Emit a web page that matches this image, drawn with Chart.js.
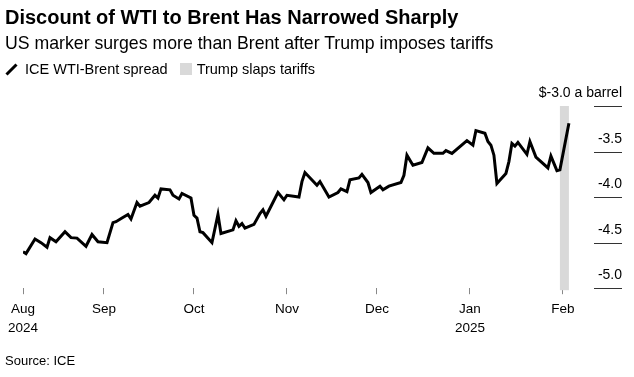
<!DOCTYPE html>
<html>
<head>
<meta charset="utf-8">
<script src="https://cdn.jsdelivr.net/npm/chart.js@4.4.1/dist/chart.umd.min.js"></script>
<style>
  html, body { margin: 0; padding: 0; background: #fff; }
  body { width: 634px; height: 377px; position: relative; overflow: hidden;
         font-family: "Liberation Sans", Arial, sans-serif; color: #000; }
  #wrap { position: absolute; left: 0; top: 0; width: 634px; height: 377px; }
  #spreadChart { display: block; }
  .txt { position: absolute; left: 5px; white-space: nowrap; }
  #title { top: 5px; font-size: 20px; line-height: 24px; font-weight: bold; }
  #subtitle { top: 33px; font-size: 17.7px; line-height: 21px; }
  #legend { top: 60px; font-size: 14.5px; line-height: 18px; display: flex; align-items: center; }
  #legend .item { display: flex; align-items: center; margin-right: 12px; }
  #legend .swatch { width: 12px; height: 12px; background: #d9d9d9; margin-right: 5px; }
  #legend svg { margin-right: 7px; }
  #source { top: 353px; font-size: 13px; line-height: 15px; }
</style>
</head>
<body>
<div id="wrap"><canvas id="spreadChart" width="634" height="377"></canvas></div>
<div class="txt" id="title">Discount of WTI to Brent Has Narrowed Sharply</div>
<div class="txt" id="subtitle">US marker surges more than Brent after Trump imposes tariffs</div>
<div class="txt" id="legend">
  <span class="item">
    <svg width="13" height="13" viewBox="0 0 13 13"><line x1="1.5" y1="11.5" x2="11.5" y2="1.5" stroke="#000" stroke-width="3"/></svg>
    ICE WTI-Brent spread
  </span>
  <span class="item"><span class="swatch"></span>Trump slaps tariffs</span>
</div>
<div class="txt" id="source">Source: ICE</div>

<script>
const spreadDates = [
  "2024-08-05", "2024-08-06", "2024-08-09", "2024-08-11", "2024-08-13", "2024-08-14",
  "2024-08-16", "2024-08-19", "2024-08-21", "2024-08-23", "2024-08-26", "2024-08-28",
  "2024-08-30", "2024-09-02", "2024-09-04", "2024-09-05", "2024-09-07", "2024-09-09",
  "2024-09-10", "2024-09-12", "2024-09-13", "2024-09-16", "2024-09-18", "2024-09-19",
  "2024-09-20", "2024-09-23", "2024-09-24", "2024-09-26", "2024-09-27", "2024-09-30",
  "2024-10-01", "2024-10-02", "2024-10-03", "2024-10-04", "2024-10-07", "2024-10-09",
  "2024-10-10", "2024-10-14", "2024-10-15", "2024-10-16", "2024-10-17", "2024-10-18",
  "2024-10-21", "2024-10-23", "2024-10-24", "2024-10-25", "2024-10-29", "2024-10-31",
  "2024-11-01", "2024-11-05", "2024-11-06", "2024-11-07", "2024-11-11", "2024-11-12",
  "2024-11-15", "2024-11-18", "2024-11-19", "2024-11-21", "2024-11-22", "2024-11-25",
  "2024-11-26", "2024-11-28", "2024-11-29", "2024-12-02", "2024-12-03", "2024-12-05",
  "2024-12-09", "2024-12-10", "2024-12-11", "2024-12-13", "2024-12-16", "2024-12-18",
  "2024-12-20", "2024-12-23", "2024-12-24", "2024-12-26", "2024-12-31", "2025-01-02",
  "2025-01-03", "2025-01-06", "2025-01-07", "2025-01-08", "2025-01-09", "2025-01-10",
  "2025-01-13", "2025-01-14", "2025-01-15", "2025-01-16", "2025-01-17", "2025-01-20",
  "2025-01-21", "2025-01-23", "2025-01-27", "2025-01-28", "2025-01-30", "2025-01-31",
  "2025-02-03"
];

const spreadValues = [
  -4.60, -4.62, -4.46, -4.50, -4.55, -4.445,
  -4.49, -4.38, -4.445, -4.45, -4.54, -4.41,
  -4.49, -4.50, -4.28, -4.27, -4.23, -4.19,
  -4.24, -4.06, -4.10, -4.06, -3.98, -4.01,
  -3.91, -3.92, -3.98, -4.02, -3.96, -4.01,
  -4.20, -4.23, -4.38, -4.39, -4.50, -4.19,
  -4.40, -4.36, -4.26, -4.32, -4.29, -4.34,
  -4.30, -4.18, -4.14, -4.21, -3.95, -4.03,
  -3.98, -4.00, -3.83, -3.73, -3.87, -3.83,
  -4.00, -3.95, -3.91, -3.94, -3.81, -3.79,
  -3.75, -3.84, -3.95, -3.88, -3.92, -3.88,
  -3.84, -3.76, -3.54, -3.65, -3.62, -3.46,
  -3.52, -3.52, -3.49, -3.52, -3.38, -3.43,
  -3.27, -3.30, -3.39, -3.43, -3.54, -3.85,
  -3.74, -3.61, -3.41, -3.44, -3.40, -3.53,
  -3.39, -3.56, -3.68, -3.55, -3.71, -3.70,
  -3.19
];

const xTickDates = ["2024-08-05", "2024-09-01", "2024-10-01", "2024-11-01", "2024-12-01", "2025-01-01", "2025-02-01"];
const xTickLabels = [["Aug", "2024"], "Sep", "Oct", "Nov", "Dec", ["Jan", "2025"], "Feb"];

const yTicks = [-3.0, -3.5, -4.0, -4.5, -5.0];
const yTickLabels = ["$-3.0 a barrel", "-3.5", "-4.0", "-4.5", "-5.0"];

const tariffStart = "2025-01-31";
const tariffEnd = "2025-02-03";

const FONT = '"Liberation Sans", Arial, sans-serif';
const origin = Date.parse("2024-08-01");
function dayOf(s) {
  return (Date.parse(s) - origin) / 86400000;
}

const points = spreadDates.map((d, i) => ({ x: dayOf(d), y: spreadValues[i] }));
const xMin = dayOf("2024-08-05");
const xMax = xMin + 199.7;

// shaded tariff period + short right-side gridlines with labels
const overlayPlugin = {
  id: "overlay",
  beforeDatasetsDraw(chart) {
    const { ctx, chartArea, scales } = chart;
    const x0 = scales.x.getPixelForValue(dayOf(tariffStart));
    const x1 = scales.x.getPixelForValue(dayOf(tariffEnd));
    ctx.save();
    ctx.fillStyle = "#d9d9d9";
    ctx.fillRect(x0, chartArea.top, x1 - x0, chartArea.bottom - chartArea.top + 2);

    ctx.strokeStyle = "#333";
    ctx.lineWidth = 1;
    ctx.fillStyle = "#000";
    ctx.font = "14px " + FONT;
    ctx.textAlign = "right";
    ctx.textBaseline = "alphabetic";
    yTicks.forEach((v, i) => {
      const y = Math.round(scales.y.getPixelForValue(v)) + 0.5;
      ctx.beginPath();
      ctx.moveTo(chartArea.right - 28, y);
      ctx.lineTo(chartArea.right, y);
      ctx.stroke();
      ctx.fillText(yTickLabels[i], chartArea.right, y - 10);
    });
    ctx.restore();
  },
};

const ctx = document.getElementById("spreadChart");
new Chart(ctx, {
  type: "line",
  data: {
    datasets: [
      {
        label: "ICE WTI-Brent spread",
        data: points,
        borderColor: "#000",
        borderWidth: 3,
        pointRadius: 0,
        tension: 0,
        borderJoinStyle: "miter",
        fill: false,
      },
    ],
  },
  options: {
    responsive: false,
    animation: false,
    devicePixelRatio: 1,
    layout: { padding: { left: 23, right: 12, top: 106, bottom: 33 } },
    plugins: { legend: { display: false }, tooltip: { enabled: false } },
    scales: {
      x: {
        type: "linear",
        min: xMin,
        max: xMax,
        afterBuildTicks: (scale) => {
          scale.ticks = xTickDates.map((d) => ({ value: dayOf(d) }));
        },
        ticks: {
          autoSkip: false,
          maxRotation: 0,
          padding: 6,
          color: "#000",
          font: { family: FONT, size: 13.5, lineHeight: 1.4 },
          callback: (value, index) => xTickLabels[index],
        },
        grid: {
          drawOnChartArea: false,
          drawTicks: true,
          tickLength: 6,
          tickColor: "#888",
          tickWidth: 1,
        },
        border: { display: false },
      },
      y: {
        display: false,
        min: -5,
        max: -3,
      },
    },
  },
  plugins: [overlayPlugin],
});
</script>
</body>
</html>
